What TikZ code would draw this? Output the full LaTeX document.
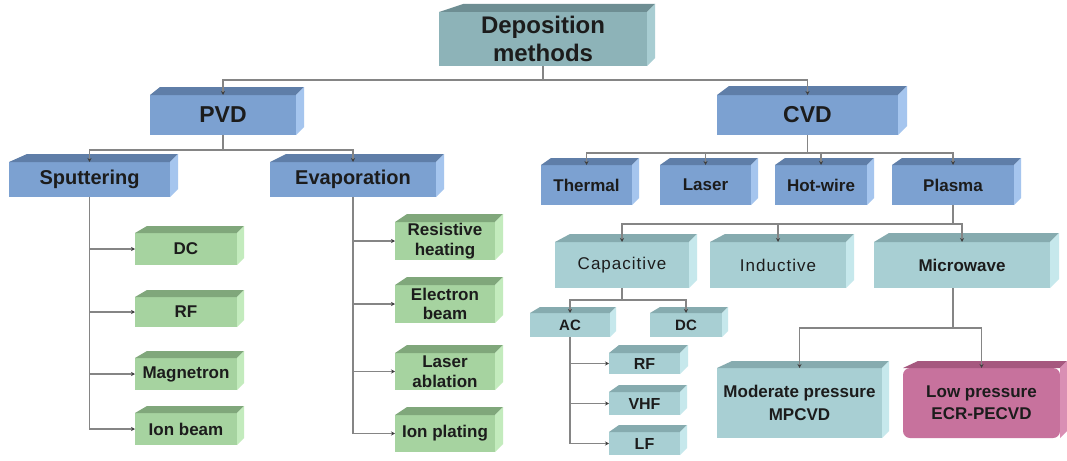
\documentclass[tikz,border=0pt]{standalone}
\usepackage{fontspec}
\setmainfont{Liberation Sans}
\usetikzlibrary{calc,arrows.meta}
\definecolor{tealfront}{HTML}{8DB3B8}
\definecolor{tealtop}{HTML}{6E8E93}
\definecolor{tealside}{HTML}{A8CDD2}
\definecolor{blufront}{HTML}{7CA1D1}
\definecolor{blutop}{HTML}{5F7EA8}
\definecolor{bluside}{HTML}{A5C5EE}
\definecolor{grnfront}{HTML}{A6D3A0}
\definecolor{grntop}{HTML}{80A77B}
\definecolor{grnside}{HTML}{C3EBBD}
\definecolor{ltfront}{HTML}{A8CFD3}
\definecolor{lttop}{HTML}{86ABAF}
\definecolor{ltside}{HTML}{C6E8EC}
\definecolor{pinkfront}{HTML}{C7729D}
\definecolor{pinktop}{HTML}{A6587F}
\definecolor{pinkside}{HTML}{D98FB4}
\definecolor{linegray}{HTML}{858585}
\definecolor{txt}{HTML}{1C1C1C}
\newcommand\ftD{\fontsize{24}{27}\selectfont\bfseries}
\newcommand\ftP{\fontsize{23}{26}\selectfont\bfseries}
\newcommand\ftS{\fontsize{20}{22}\selectfont\bfseries}
\newcommand\ftT{\fontsize{17}{19}\selectfont\bfseries}
\newcommand\ftR{\fontsize{17}{19}\selectfont\addfontfeature{LetterSpace=6}}
\newcommand\ftA{\fontsize{15}{17}\selectfont\bfseries}
\newcommand\ftV{\fontsize{16}{18}\selectfont\bfseries}
\newcommand\ftM{\fontsize{17}{19}\selectfont\bfseries}
\newcommand\ftG{\fontsize{17}{19}\selectfont\bfseries}
% name, colour prefix, x1, y1, x2, y2, text, depth, left shift
\newcommand{\mkbox}[9]{%
  \node[boxbase, #2box, minimum width={#5-#3}, minimum height={#6-#4}]
    (#1) at ({(#3+#5)/2},{(#4+#6)/2}) {#7};
  \fill[#2top] (#1.north west) -- ++(#9,-#8) -- ($(#1.north east)+(#8,-#8)$) -- (#1.north east) -- cycle;
  \fill[#2side] (#1.north east) -- ++(#8,-#8) -- ($(#1.south east)+(#8,-#8)$) -- (#1.south east) -- cycle;
}
\tikzset{
  boxbase/.style={inner sep=0pt, outer sep=0pt, align=center, text=txt},
  tealbox/.style={fill=tealfront},
  blubox/.style={fill=blufront},
  grnbox/.style={fill=grnfront},
  ltbox/.style={fill=ltfront},
  pinkbox/.style={fill=pinkfront, rounded corners=7pt},
  conn/.style={draw=linegray, line width=1.3pt, -{Stealth[length=4pt,width=4pt,color=black!75]}},
}
\begin{document}
\begin{tikzpicture}[x=1pt,y=-1pt]
\useasboundingbox (0,0) rectangle (1067,460);
\fill[white] (0,0) rectangle (1067,460);
% level 0/1
\mkbox{dep}{teal}{439}{12}{647}{66}{\ftD Deposition\\[5pt]\ftD methods}{8}{24}
\mkbox{pvd}{blu}{150}{95}{296}{135}{\ftP PVD}{8}{10}
\mkbox{cvd}{blu}{717}{95}{898}{135}{\ftP CVD}{9}{12}
% PVD children
\mkbox{sput}{blu}{9}{162}{170}{197}{\ftS Sputtering}{8}{18}
\mkbox{evap}{blu}{270}{162}{436}{197}{\ftS Evaporation}{8}{16}
% CVD children
\mkbox{therm}{blu}{541}{165}{632}{205}{\ftT Thermal}{7}{10}
\mkbox{laser}{blu}{660}{165}{751}{205}{\ftT Laser}{7}{10}
\mkbox{hotw}{blu}{775}{165}{867}{205}{\ftT Hot-wire}{7}{10}
\mkbox{plasma}{blu}{892}{165}{1014}{205}{\ftT Plasma}{7}{10}
% plasma children
\mkbox{capac}{lt}{555}{242}{689}{288}{\ftR Capacitive}{8}{15}
\mkbox{induc}{lt}{710}{242}{846}{288}{\ftR Inductive}{8}{15}
\mkbox{micro}{lt}{874}{242}{1050}{288}{\ftT Microwave}{9}{15}
\mkbox{ac}{lt}{530}{313}{610}{337}{\ftA AC}{6}{10}
\mkbox{dcp}{lt}{650}{313}{722}{337}{\ftA DC}{6}{10}
\mkbox{rfp}{lt}{609}{353}{680}{374}{\ftV RF}{8}{10}
\mkbox{vhf}{lt}{609}{392}{680}{415}{\ftV VHF}{7}{10}
\mkbox{lf}{lt}{609}{432}{680}{455}{\ftV LF}{7}{10}
\mkbox{mod}{lt}{717}{368}{882}{438}{\ftM Moderate pressure\\[6pt]\ftM MPCVD}{7}{15}
\mkbox{low}{pink}{903}{368}{1060}{438}{\ftM Low pressure\\[6pt]\ftM ECR-PECVD}{7}{15}
% sputtering children
\mkbox{gdc}{grn}{135}{233}{237}{265}{\ftG DC}{7}{12}
\mkbox{grf}{grn}{135}{297}{237}{327}{\ftG RF}{7}{12}
\mkbox{gmag}{grn}{135}{358}{237}{390}{\ftG Magnetron}{7}{12}
\mkbox{gion}{grn}{135}{413}{237}{445}{\ftG Ion beam}{7}{12}
% evaporation children
\mkbox{gres}{grn}{395}{222}{495}{260}{\ftG Resistive\\[6pt]\ftG heating}{8}{12}
\mkbox{gel}{grn}{395}{285}{495}{323}{\ftG Electron\\[6pt]\ftG beam}{8}{12}
\mkbox{gla}{grn}{395}{353}{495}{390}{\ftG Laser\\[6pt]\ftG ablation}{8}{12}
\mkbox{gip}{grn}{395}{415}{495}{452}{\ftG Ion plating}{8}{12}
% connectors
\draw[conn] (dep.south) -- ++(0,14) -| (pvd.north);
\draw[conn] (dep.south) -- ++(0,14) -| (cvd.north);
\draw[conn] (pvd.south) -- ++(0,15) -| (sput.north);
\draw[conn] (pvd.south) -- ++(0,15) -| (evap.north);
\foreach \n in {therm,laser,hotw,plasma}
  \draw[conn] (cvd.south) -- ++(0,18) -| (\n.north);
\foreach \n in {capac,induc,micro}
  \draw[conn] (plasma.south) -- ++(0,19) -| (\n.north);
\foreach \n in {ac,dcp}
  \draw[conn] (capac.south) -- ++(0,12) -| (\n.north);
\foreach \n in {rfp,vhf,lf}
  \draw[conn] (ac.south) |- (\n.west);
\coordinate (mdrop) at ($(micro.south)+(-9,0)$);
\foreach \n in {mod,low}
  \draw[conn] (mdrop) -- ++(0,40) -| (\n.north);
\foreach \n in {gdc,grf,gmag,gion}
  \draw[conn] (sput.south) |- (\n.west);
\foreach \n in {gres,gel,gla,gip}
  \draw[conn] (evap.south) |- (\n.west);
\end{tikzpicture}
\end{document}
